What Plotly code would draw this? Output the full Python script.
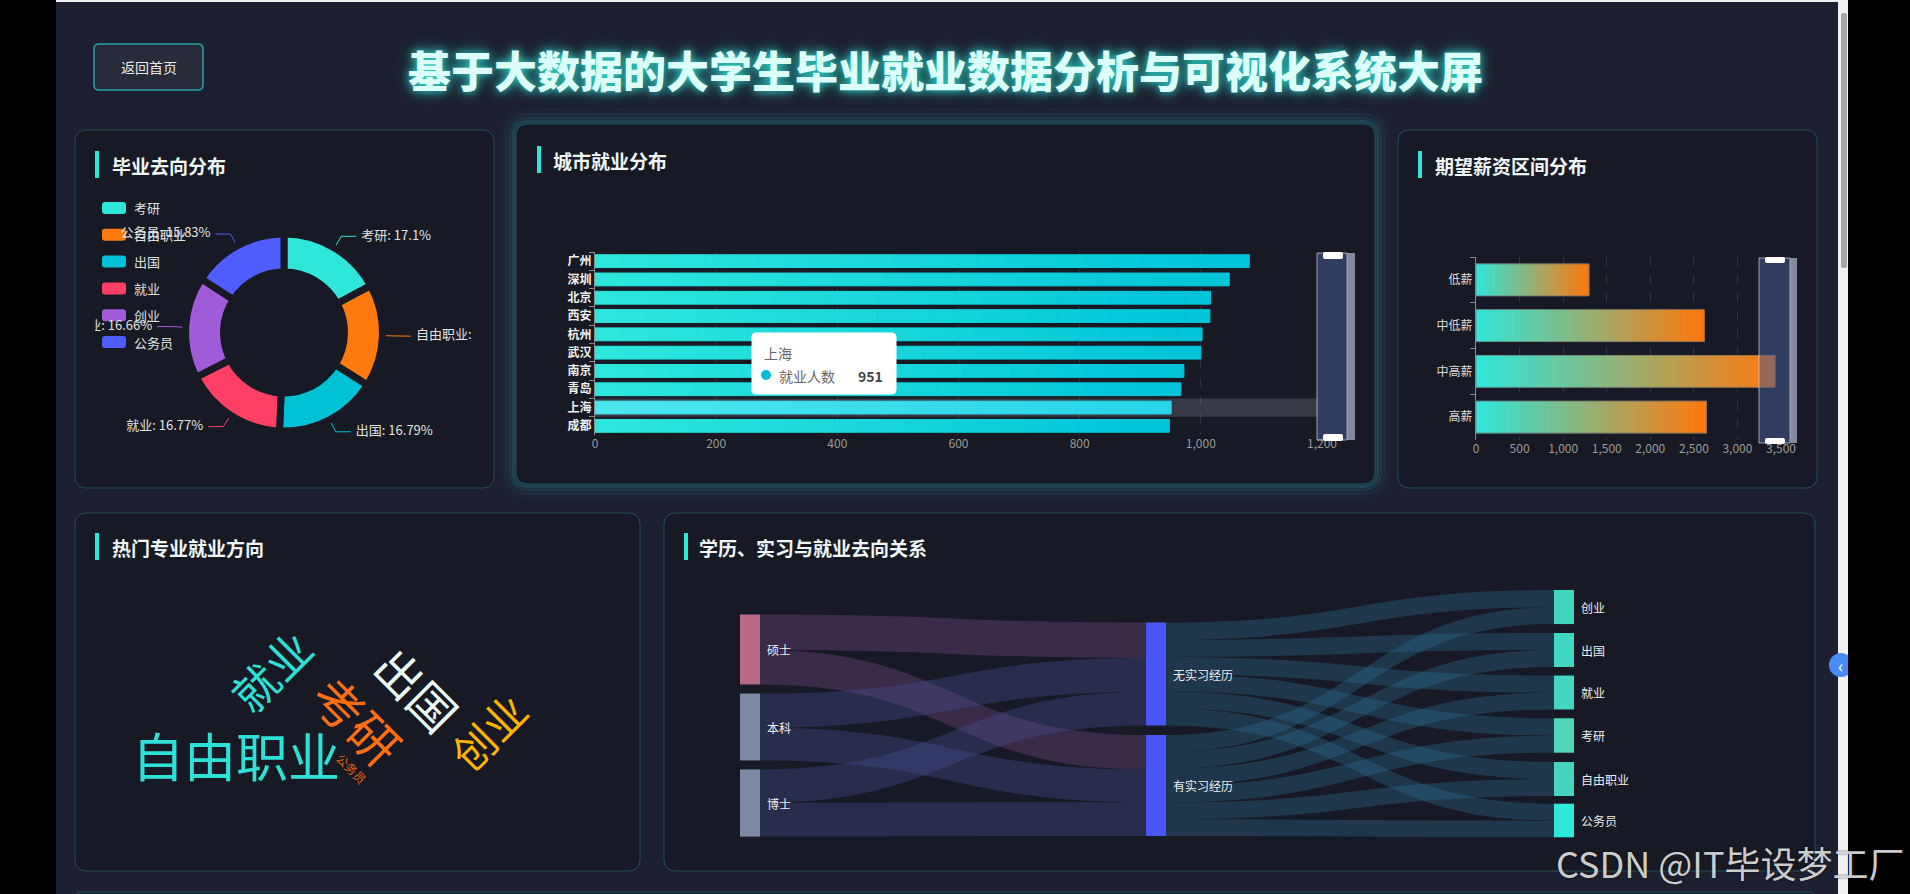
import math
import plotly.graph_objects as go

W, H = 1910, 894
FONT = "Noto Sans CJK SC, Noto Sans, sans-serif"

# ---------------- data ----------------
dest_names = ['考研', '自由职业', '出国', '就业', '创业', '公务员']
dest_share = [17.1, 16.85, 16.79, 16.77, 16.66, 15.83]

cities = ['广州', '深圳', '北京', '西安', '杭州', '武汉', '南京', '青岛', '上海', '成都']
city_counts = [1080, 1047, 1016, 1015, 1002, 1000, 972, 967, 951, 948]
city_ticks = [0, 200, 400, 600, 800, 1000, 1200]
hover_city = '上海'

salary_levels = ['低薪', '中低薪', '中高薪', '高薪']
salary_counts = [1296, 2619, 3431, 2645]
salary_ticks = [0, 500, 1000, 1500, 2000, 2500, 3000, 3500]

cloud_words = ['自由职业', '考研', '就业', '出国', '创业', '公务员']
cloud_weights = [1050, 1020, 960, 975, 925, 520]

sankey_nodes = ['硕士', '本科', '博士', '无实习经历', '有实习经历',
                '创业', '出国', '就业', '考研', '自由职业', '公务员']
link_source = [0, 0, 1, 1, 2, 2,
               3, 3, 3, 3, 3, 3,
               4, 4, 4, 4, 4, 4]
link_target = [3, 4, 3, 4, 3, 4,
               5, 6, 7, 8, 9, 10,
               5, 6, 7, 8, 9, 10]
link_value = [520, 505, 500, 480, 490, 495,
              255, 250, 252, 255, 250, 248,
              245, 248, 245, 250, 248, 244]

# ---------------- styles ----------------
PAGE_BG = '#1d2030'
PANEL_BG = '#171a24'
PANEL_LINE = 'rgba(50,170,175,0.35)'
ACCENT = '#2de6d6'
dest_colors = ['#2fe6da', '#ff7a0c', '#00c2d6', '#ff3f64', '#a25bd8', '#4f5cff']


def X(px):
    return px / W


def Y(py):
    return 1 - py / H


def hex2rgb(h):
    h = h.lstrip('#')
    return [int(h[i:i + 2], 16) for i in (0, 2, 4)]


def lerp(c1, c2, t):
    a, b = hex2rgb(c1), hex2rgb(c2)
    return 'rgb(%d,%d,%d)' % tuple(round(a[i] + (b[i] - a[i]) * t) for i in range(3))


def rrect(x0, y0, x1, y1, r):
    def P(x, y):
        return f"{X(x):.6f},{Y(y):.6f}"
    return (f"M {P(x0 + r, y0)} L {P(x1 - r, y0)} Q {P(x1, y0)} {P(x1, y0 + r)} "
            f"L {P(x1, y1 - r)} Q {P(x1, y1)} {P(x1 - r, y1)} L {P(x0 + r, y1)} "
            f"Q {P(x0, y1)} {P(x0, y1 - r)} L {P(x0, y0 + r)} Q {P(x0, y0)} {P(x0 + r, y0)} Z")


shapes = []
annotations = []


def box(x0, y0, x1, y1, fill, line='rgba(0,0,0,0)', lw=0, r=0, layer='below'):
    if r > 0:
        shapes.append(dict(type='path', path=rrect(x0, y0, x1, y1, r), xref='paper', yref='paper',
                           fillcolor=fill, line=dict(color=line, width=lw), layer=layer))
    else:
        shapes.append(dict(type='rect', x0=X(x0), x1=X(x1), y0=Y(y1), y1=Y(y0), xref='paper', yref='paper',
                           fillcolor=fill, line=dict(color=line, width=lw), layer=layer))


def text(x, y, s, size=13, color='#e0e0e0', xanchor='left', weight='normal', angle=0, shadow=None, yanchor='middle'):
    f = dict(family=FONT, size=size, color=color, weight=weight)
    if shadow:
        f['shadow'] = shadow
    annotations.append(dict(x=X(x), y=Y(y), xref='paper', yref='paper', text=s, showarrow=False,
                            xanchor=xanchor, yanchor=yanchor, font=f, textangle=angle))


# ---------------- page chrome ----------------
box(56, 0, 1848, 894, PAGE_BG)
box(56, 0, 1848, 2, '#f2f2f2')
box(1838, 0, 1848, 894, '#f1f1f1')
box(1841, 13, 1847, 268, '#a6a6a6', r=2)

# back button
box(94, 44, 203, 90, '#272b3a', line='rgba(45,200,200,0.75)', lw=1.5, r=5)
text(148.5, 67, '返回首页', size=14, color='#eaeaea', xanchor='center')

# main title
text(945, 69, '基于大数据的大学生毕业就业数据分析与可视化系统大屏', size=43, color='#dcfff9',
     xanchor='center', weight=900,
     shadow='0 0 8px rgba(45,230,214,0.9), 0 0 16px rgba(45,230,214,0.5)')

# panel 2 glow
for off, a in [(14, 0.03), (10, 0.05), (6, 0.08), (3, 0.12)]:
    box(516 - off, 124 - off, 1375 + off, 484 + off, 'rgba(45,200,200,%.2f)' % (a * 0.6),
        line='rgba(45,200,200,%.2f)' % a, lw=2, r=12 + off)

panels = [
    (75, 130, 494, 488, '毕业去向分布', 95, 164.5, 110),
    (516, 124, 1375, 484, '城市就业分布', 537, 159.5, 551),
    (1398, 130, 1817, 488, '期望薪资区间分布', 1418, 164.5, 1433),
    (75, 513, 640, 871, '热门专业就业方向', 95, 546.5, 110),
    (664, 513, 1815, 871, '学历、实习与就业去向关系', 684, 546.5, 697),
]
for (x0, y0, x1, y1, title, ax, ay, tx) in panels:
    box(x0, y0, x1, y1, PANEL_BG, line=PANEL_LINE, lw=1, r=12)
    box(ax, ay - 13.5, ax + 4, ay + 13.5, ACCENT)
    text(tx, ay + 1, title, size=19, color='#eef5f5', weight='bold')

# next row hint at bottom
box(75, 892, 1815, 900, PANEL_BG, line=PANEL_LINE, lw=1, r=6)

fig = go.Figure()

# ---------------- donut ----------------
CX, CY, RV = 284, 332.5, 95
GAP = 7
RP = RV + GAP / 2
fig.add_trace(go.Pie(
    labels=dest_names, values=dest_share, sort=False, direction='clockwise', rotation=0,
    hole=(64 - GAP / 2) / RP, textinfo='none', automargin=False,
    marker=dict(colors=dest_colors, line=dict(color=PANEL_BG, width=GAP)),
    domain=dict(x=[X(CX - RP), X(CX + RP)], y=[Y(CY + RP), Y(CY - RP)]),
    hovertemplate='%{label}: %{value}%<extra></extra>'))

total = sum(dest_share)
cum = 0
for name, v, col in zip(dest_names, dest_share, dest_colors):
    th = math.radians((cum + v / 2) / total * 360)
    cum += v
    s, c = math.sin(th), math.cos(th)
    p0 = (CX + (RV + 1) * s, CY - (RV + 1) * c)
    p1 = (CX + 112 * s, CY - 112 * c)
    right = s >= 0
    p2 = (p1[0] + (15 if right else -15), p1[1])
    fig.add_trace(go.Scatter(x=[p0[0], p1[0], p2[0]], y=[p0[1], p1[1], p2[1]], mode='lines',
                             line=dict(color=col, width=1), xaxis='x3', yaxis='y3', hoverinfo='skip'))
    fig.add_trace(go.Scatter(x=[p2[0] + (5 if right else -5)], y=[p1[1]], mode='text',
                             text=[f"{name}: {v}%"], textposition='middle right' if right else 'middle left',
                             textfont=dict(family=FONT, size=13, color='#e2e2e2'),
                             cliponaxis=True, xaxis='x3', yaxis='y3', hoverinfo='skip'))

# donut legend
for i, (name, col) in enumerate(zip(dest_names, dest_colors)):
    yc = 208 + i * 26.8
    box(102, yc - 6, 126, yc + 6, col, r=3)
    text(132, yc, name, size=13, color='#e0e0e0')

# ---------------- city bars ----------------
NSEG = 24
hi = cities.index(hover_city)
for i in range(NSEG):
    t = (i + 0.5) / NSEG
    cols = [lerp('#4ce6ee', '#28d4ea', t) if k == hi else lerp('#2ee8de', '#00c3d9', t)
            for k in range(len(cities))]
    fig.add_trace(go.Bar(orientation='h', y=cities, x=[v / NSEG for v in city_counts],
                         base=[v * i / NSEG for v in city_counts], width=0.7,
                         marker=dict(color=cols, line=dict(width=1, color=cols)),
                         xaxis='x', yaxis='y', hoverinfo='skip'))
fig.add_trace(go.Bar(orientation='h', y=cities, x=city_counts, width=0.72,
                     marker=dict(color='rgba(0,0,0,0)', line=dict(width=0)),
                     xaxis='x', yaxis='y', hovertemplate='%{y}<br>就业人数 %{x}<extra></extra>'))

# hover shadow band
shapes.append(dict(type='rect', xref='paper', yref='y', x0=X(595), x1=X(1318), y0=hi - 0.5, y1=hi + 0.5,
                   fillcolor='rgba(150,150,165,0.25)', line=dict(width=0), layer='below'))

# data zoom slider (city)
box(1317, 253, 1347, 440, 'rgba(70,90,145,0.55)', line='rgba(205,212,230,0.7)', lw=1, layer='above')
box(1347, 253, 1355, 440, 'rgba(170,176,195,0.75)', layer='above')
box(1323, 252, 1343, 259, '#ffffff', r=2, layer='above')
box(1323, 434, 1343, 441, '#ffffff', r=2, layer='above')

# tooltip
box(752, 333, 896, 394, '#ffffff', line='rgba(255,255,255,1)', lw=1, r=4, layer='above')
text(762, 353, hover_city, size=14, color='#666666')
shapes.append(dict(type='circle', xref='paper', yref='paper', x0=X(761), x1=X(771), y0=Y(380), y1=Y(370),
                   fillcolor='#00bcd4', line=dict(width=0), layer='above'))
text(777, 376, '就业人数', size=14, color='#666666')
text(885, 376, str(city_counts[hi]), size=14, color='#464646', xanchor='right', weight='bold')

# ---------------- salary bars ----------------
NSEG2 = 40
for i in range(NSEG2):
    t = (i + 0.5) / NSEG2
    col = lerp('#2ee8dc', '#ff780c', t)
    fig.add_trace(go.Bar(orientation='h', y=salary_levels, x=[v / NSEG2 for v in salary_counts],
                         base=[v * i / NSEG2 for v in salary_counts], width=0.69,
                         marker=dict(color=col, line=dict(color=col, width=1)),
                         xaxis='x2', yaxis='y2', hoverinfo='skip'))
fig.add_trace(go.Bar(orientation='h', y=salary_levels, x=salary_counts, width=0.7,
                     marker=dict(color='rgba(0,0,0,0)', line=dict(color='rgba(110,110,110,0.7)', width=1)),
                     xaxis='x2', yaxis='y2', hovertemplate='%{y}: %{x}<extra></extra>'))

# data zoom slider (salary)
box(1759, 258, 1790, 443, 'rgba(70,90,145,0.55)', line='rgba(205,212,230,0.7)', lw=1, layer='above')
box(1790, 258, 1797, 443, 'rgba(170,176,195,0.75)', layer='above')
box(1765, 257, 1785, 263, '#ffffff', r=2, layer='above')
box(1765, 438, 1785, 444, '#ffffff', r=2, layer='above')

# ---------------- word cloud ----------------
cloud_layout = {
    '自由职业': (236, 754, 0, '#2ee0d6'),
    '考研': (358, 719, 45, '#ff6f0f'),
    '就业': (270, 670, -45, '#2ee0d6'),
    '出国': (418, 688, 45, '#eaf8f4'),
    '创业': (487, 731, -45, '#ffb400'),
    '公务员': (352, 768, 45, '#e0600f'),
}
wmin, wmax = min(cloud_weights), max(cloud_weights)
for w, wt in zip(cloud_words, cloud_weights):
    size = 12 + (wt - wmin) / (wmax - wmin) * 40
    cx, cy, ang, col = cloud_layout[w]
    text(cx, cy, w, size=size, color=col, xanchor='center', angle=ang)

# ---------------- sankey ----------------
SX0, SX1, SY0, SY1 = 740, 1574, 586, 840
node_cx = [750, 750, 750, 1156, 1156, 1564, 1564, 1564, 1564, 1564, 1564]
node_cy = [649.5, 727, 803, 674, 785.5, 607, 650, 692.5, 735.5, 779, 820.5]
node_colors = ['#b86a86', '#7d88a3', '#7d88a3', '#4a56f5', '#4a56f5',
               '#3fd6bd', '#3fd8c2', '#44d6c0', '#4fd6b8', '#45d4bf', '#2ee8dc']
link_colors = []
for s_ in link_source:
    if s_ == 0:
        link_colors.append('rgba(115,72,135,0.38)')
    elif s_ in (1, 2):
        link_colors.append('rgba(72,78,150,0.36)')
    else:
        link_colors.append('rgba(45,108,145,0.36)')
fig.add_trace(go.Sankey(
    domain=dict(x=[X(SX0), X(SX1)], y=[Y(SY1), Y(SY0)]),
    arrangement='fixed',
    node=dict(label=[''] * len(sankey_nodes), customdata=sankey_nodes,
              hovertemplate='%{customdata}<extra></extra>',
              x=[(c - SX0) / (SX1 - SX0) for c in node_cx],
              y=[(c - SY0) / (SY1 - SY0) for c in node_cy],
              pad=10, thickness=20, color=node_colors, line=dict(width=0)),
    link=dict(source=link_source, target=link_target, value=link_value, color=link_colors)))
for name, cx, cy in zip(sankey_nodes, node_cx, node_cy):
    text(cx + 15, cy, name, size=12, color='#eeeeee')

# ---------------- misc overlays ----------------
shapes.append(dict(type='circle', xref='paper', yref='paper', x0=X(1829), x1=X(1853), y0=Y(677), y1=Y(653),
                   fillcolor='#4a8cf5', line=dict(width=0), layer='above'))
box(1848, 0, 1910, 894, '#000000', layer='above')
text(1840, 665, '‹', size=18, color='#ffffff', xanchor='center')
text(1906, 862, 'CSDN @IT毕设梦工厂', size=36, color='rgba(232,232,232,0.88)', xanchor='right',
     shadow='0 0 2px rgba(0,0,0,0.8)')

axis_common = dict(fixedrange=True, zeroline=False, automargin=False)
fig.update_layout(
    width=W, height=H, margin=dict(l=0, r=0, t=0, b=0, pad=0, autoexpand=False),
    paper_bgcolor='#000000', plot_bgcolor='rgba(0,0,0,0)', showlegend=False,
    barmode='overlay', font=dict(family=FONT, color='#dddddd'),
    xaxis=dict(domain=[X(595), X(1322)], range=[0, 1200], anchor='y', tickvals=city_ticks,
               tickformat=',d', showgrid=True, gridcolor='rgba(255,255,255,0.10)', griddash='dash',
               showline=False, ticks='', tickfont=dict(size=12, color='#9a9a9a'), **axis_common),
    yaxis=dict(domain=[Y(435), Y(252)], anchor='x', type='category', categoryorder='array',
               categoryarray=cities, autorange='reversed', showline=True, linecolor='#8a8a8a',
               ticks='outside', tickson='boundaries', ticklen=5, tickcolor='#8a8a8a',
               tickfont=dict(size=12, color='#f0f0f0', weight='bold'), showgrid=False, **axis_common),
    xaxis2=dict(domain=[X(1476), X(1781)], range=[0, 3500], anchor='y2', tickvals=salary_ticks,
                tickformat=',d', showgrid=True, gridcolor='rgba(255,255,255,0.12)', griddash='dash',
                showline=False, ticks='', tickfont=dict(size=12, color='#9a9a9a'), **axis_common),
    yaxis2=dict(domain=[Y(440), Y(257)], anchor='x2', type='category', categoryorder='array',
                categoryarray=salary_levels, autorange='reversed', showline=True, linecolor='#8a8a8a',
                ticks='outside', tickson='boundaries', ticklen=5, tickcolor='#8a8a8a',
                tickfont=dict(size=12, color='#dcdcdc'), showgrid=False, **axis_common),
    xaxis3=dict(domain=[X(95), X(472)], range=[95, 472], anchor='y3', visible=False, **axis_common),
    yaxis3=dict(domain=[Y(480), Y(180)], range=[480, 180], anchor='x3', visible=False, **axis_common),
    shapes=shapes, annotations=annotations,
)

fig.write_html("out.html", config={'displayModeBar': False})
